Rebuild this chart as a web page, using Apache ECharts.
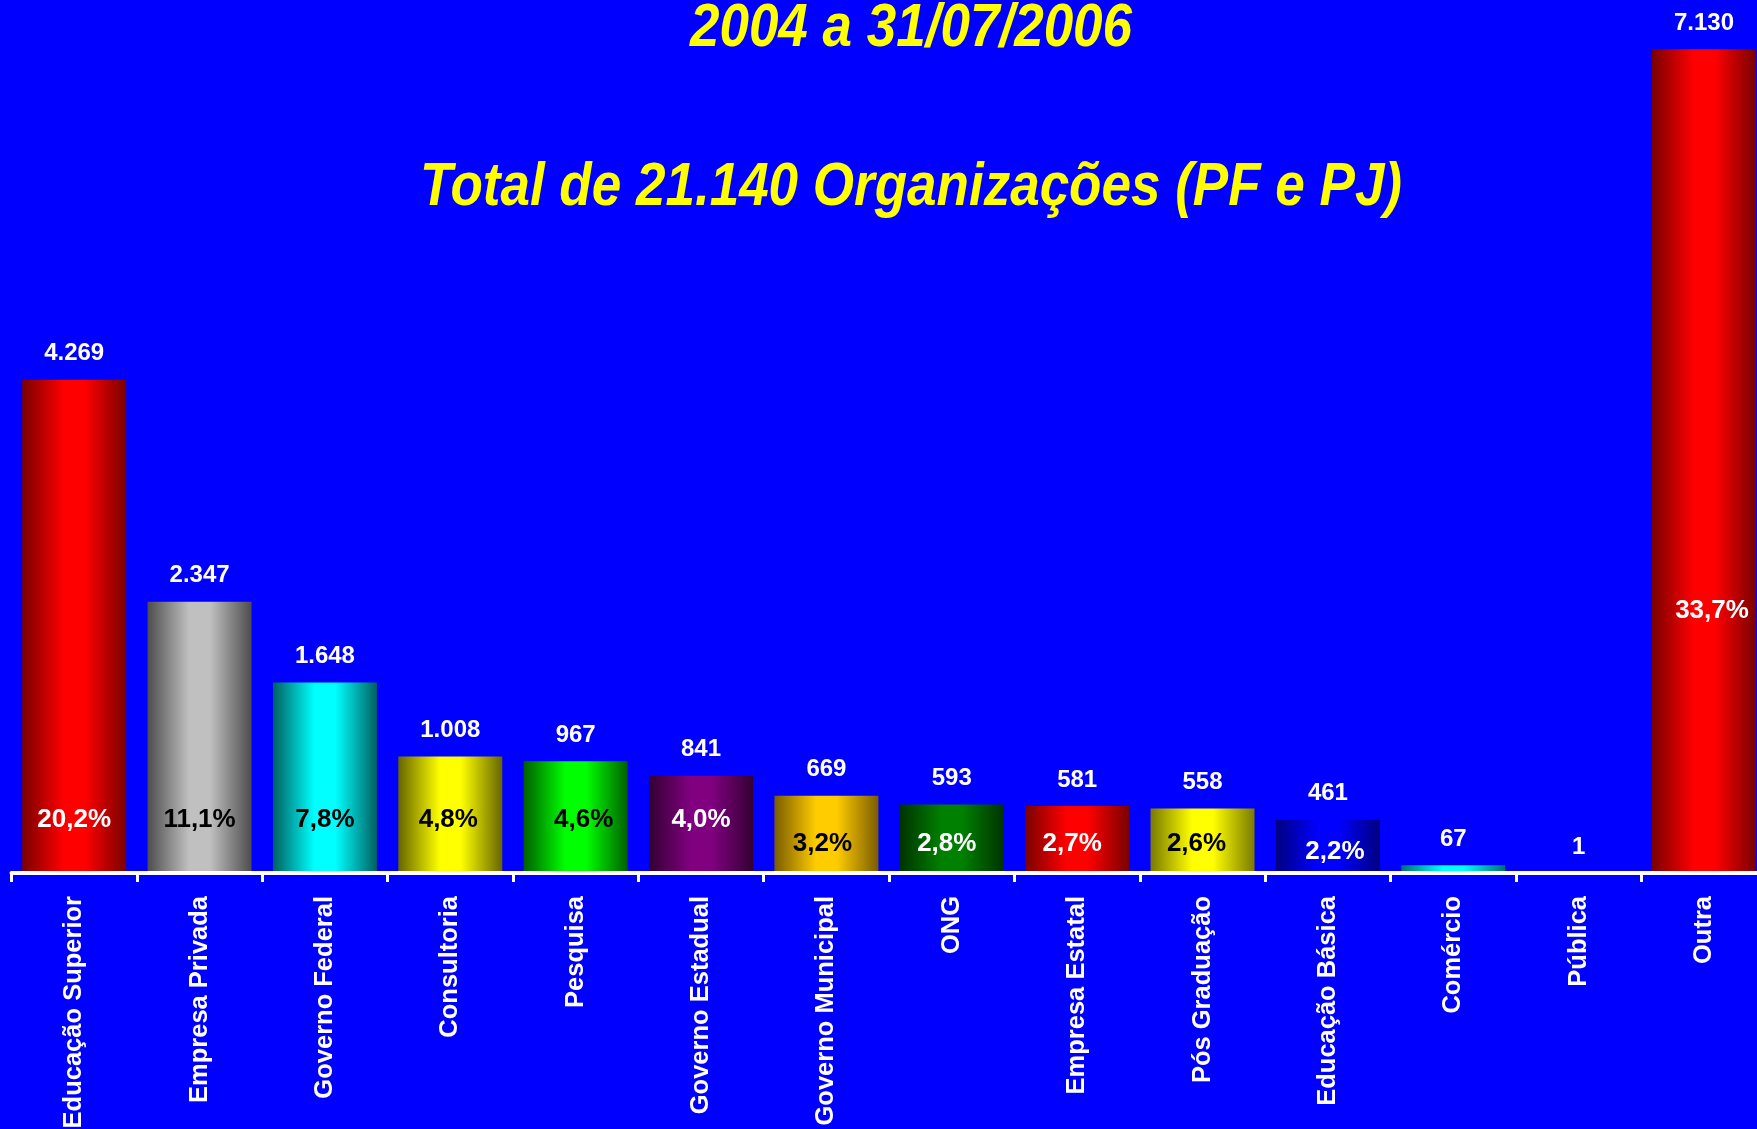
<!DOCTYPE html>
<html>
<head>
<meta charset="utf-8">
<title>Organizações 2004 a 31/07/2006</title>
<script src="https://cdn.jsdelivr.net/npm/echarts@6.0.0/dist/echarts.min.js"></script>
<style>
  html, body { margin: 0; padding: 0; background: #0000ff; }
  #chart { width: 1757px; height: 1129px; }
</style>
</head>
<body>
<div id="chart"></div>
<script>
// dados
var categorias = ['Educação Superior', 'Empresa Privada', 'Governo Federal', 'Consultoria', 'Pesquisa',
  'Governo Estadual', 'Governo Municipal', 'ONG', 'Empresa Estatal', 'Pós Graduação',
  'Educação Básica', 'Comércio', 'Pública', 'Outra'];
var valores = [4269, 2347, 1648, 1008, 967, 841, 669, 593, 581, 558, 461, 67, 1, 7130];
var percentuais = [20.2, 11.1, 7.8, 4.8, 4.6, 4.0, 3.2, 2.8, 2.7, 2.6, 2.2, null, null, 33.7];
var titulo1 = '2004 a 31/07/2006';
var titulo2 = 'Total de 21.140 Organizações (PF e PJ)';

// estilos (cor escura da borda, cor clara do centro)
var cores = [
  ['#7a0000', '#ff0000'], ['#4d4d4d', '#c0c0c0'], ['#006060', '#00ffff'], ['#666600', '#ffff00'],
  ['#006000', '#00ff00'], ['#330033', '#800080'], ['#7a5c00', '#ffcc00'], ['#003300', '#008000'],
  ['#7a0000', '#ff0000'], ['#7a7a00', '#ffff00'], ['#000080', '#0000ff'], ['#007070', '#00ffff'],
  ['#7a0000', '#ff0000'], ['#7a0000', '#ff0000']
];
var corPct = ['#fff', '#000', '#000', '#000', '#000', '#fff', '#000', '#fff', '#fff', '#000', '#fff', '#fff', '#fff', '#fff'];
var distPct = [40, 40, 40, 40, 40, 40, 16, 16, 16, 16, 8, 0, 0, 249];
var dxPct = [0, 0, 0, -2, 8, 0, -4, -5, -5, -6, 7, 0, 0, 8];

var fonte = "'Liberation Sans', Arial, sans-serif";

function milhar(v) {
  return String(v).replace(/\B(?=(\d{3})+(?!\d))/g, '.');
}

var chart = echarts.init(document.getElementById('chart'));

// barras com gradiente horizontal (efeito cilindro)
var barras = valores.map(function (v, i) {
  return {
    value: v,
    itemStyle: {
      color: new echarts.graphic.LinearGradient(0, 0, 1, 0, [
        { offset: 0, color: cores[i][0] },
        { offset: 0.4, color: cores[i][1] },
        { offset: 0.6, color: cores[i][1] },
        { offset: 1, color: cores[i][0] }
      ])
    }
  };
});

// série transparente só para os percentuais dentro das barras
var pct = valores.map(function (v, i) {
  var p = percentuais[i];
  return {
    value: v,
    label: {
      show: p != null,
      distance: distPct[i],
      offset: [dxPct[i], 0],
      color: corPct[i],
      formatter: p == null ? '' : p.toFixed(1).replace('.', ',') + '%'
    }
  };
});

// títulos em itálico estreito (Arial Narrow simulado com scaleX)
function titulo(texto, y) {
  return {
    type: 'text',
    x: 911,
    y: y,
    scaleX: 0.855,
    silent: true,
    style: {
      text: texto,
      fill: '#ffff00',
      font: "italic bold 62px 'Liberation Sans', Arial, sans-serif",
      align: 'center',
      verticalAlign: 'middle',
      textShadowColor: '#000',
      textShadowOffsetX: 3,
      textShadowOffsetY: 3,
      textShadowBlur: 0
    }
  };
}

var option = {
  backgroundColor: '#0000ff',
  animation: false,
  graphic: [titulo(titulo1, 29), titulo(titulo2, 188)],
  grid: {
    left: 11.5,
    right: -9.7,
    top: 49.3,
    bottom: 256,
    outerBoundsMode: 'none',
    containLabel: false
  },
  xAxis: {
    type: 'category',
    data: categorias,
    z: 3,
    axisLine: { lineStyle: { color: '#fff', width: 4 } },
    axisTick: { show: true, length: 9, lineStyle: { color: '#fff', width: 3 } },
    axisLabel: {
      interval: 0,
      rotate: 90,
      margin: 23,
      color: '#fff',
      fontFamily: fonte,
      fontWeight: 'bold',
      fontSize: 25.5
    }
  },
  yAxis: {
    type: 'value',
    show: false,
    min: 0,
    max: 'dataMax',
    splitLine: { show: false }
  },
  series: [
    {
      name: 'Organizações',
      type: 'bar',
      barWidth: 104,
      data: barras,
      label: {
        show: true,
        position: 'top',
        distance: 14,
        color: '#fff',
        fontFamily: fonte,
        fontWeight: 'bold',
        fontSize: 24,
        formatter: function (p) { return milhar(p.value); }
      }
    },
    {
      name: 'Percentual',
      type: 'bar',
      barWidth: 104,
      barGap: '-100%',
      data: pct,
      itemStyle: { color: 'rgba(0,0,0,0)' },
      label: {
        position: 'insideBottom',
        fontFamily: fonte,
        fontWeight: 'bold',
        fontSize: 26
      }
    }
  ]
};

chart.setOption(option);
</script>
</body>
</html>
